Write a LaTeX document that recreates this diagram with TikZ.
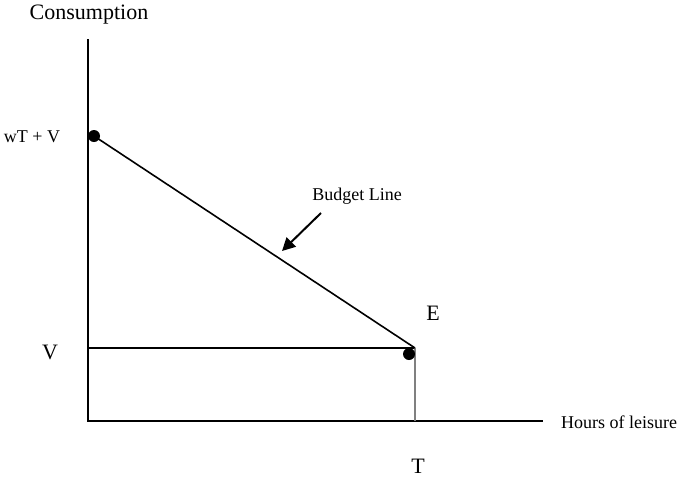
\documentclass[tikz,border=0pt]{standalone}
\usepackage{fontspec}
\setmainfont{Liberation Serif}
\usetikzlibrary{arrows.meta}
\begin{document}
\begin{tikzpicture}[x=1pt,y=-1pt,
  axis/.style={line width=2pt,black},
  thin/.style={line width=1.6pt,black},
  dot/.style={circle,fill=black,inner sep=0pt,minimum size=12pt},
  lbl/.style={inner sep=0pt,font=\fontsize{18}{20}\selectfont},
  big/.style={inner sep=0pt,font=\fontsize{22}{24}\selectfont}]
\useasboundingbox (0,0) rectangle (679,477);
\coordinate (top) at (88,39);
\coordinate (origin) at (88,421);
\coordinate (xend) at (543,421);
\coordinate (vleft) at (88,348);
\coordinate (cE) at (415,348);
\coordinate (bottomT) at (415,421);
\coordinate (bstart) at (94,136);
\coordinate (astart) at (321,213);
\coordinate (aend) at (282,251);
\draw[axis] (top) -- (origin) -- (xend);
\draw[thin] (vleft) -- (cE);
\draw[line width=1.4pt,gray] (cE) -- (bottomT);
\draw[thin] (bstart) -- (cE);
\node[dot] (d1) at (94,136) {};
\node[dot] (d2) at (409,354) {};
\draw[line width=2pt,-{Triangle[length=13pt,width=13pt]}] (astart) -- (aend);
\node[big] (cons) at (89,15) {Consumption};
\node[lbl] (wtv) at (32,137) {wT + V};
\node[lbl] (bl) at (357,196) {Budget Line};
\node[big] (E) at (433,313) {E};
\node[big] (V) at (50,352) {V};
\node[big] (T) at (418,466) {T};
\node[lbl,anchor=west] (hl) at (561,422) {Hours of leisure};
\end{tikzpicture}
\end{document}
